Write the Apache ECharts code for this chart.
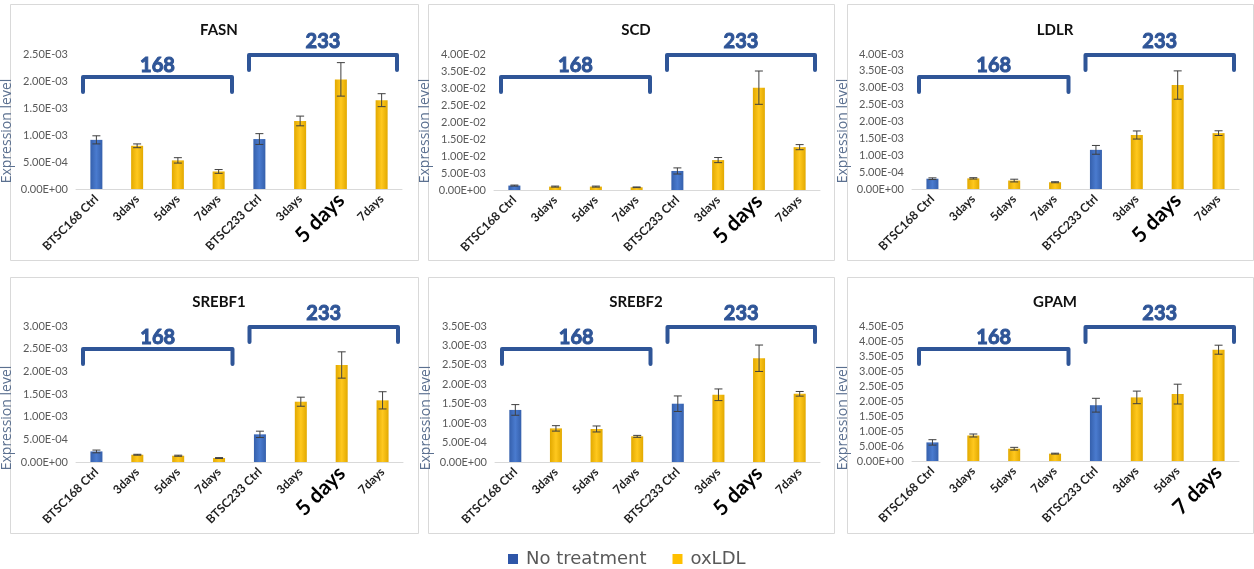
<!DOCTYPE html>
<html>
<head>
<meta charset="utf-8">
<title>Lipid gene expression</title>
<script src="https://cdn.jsdelivr.net/npm/echarts@6/dist/echarts.min.js"></script>
<style>
  html, body { margin: 0; padding: 0; background: #fff; }
  #chart { width: 1254px; height: 569px; }
</style>
</head>
<body>
<div id="chart"></div>
<script>
// ---- data ----
const panelTitles = ['FASN', 'SCD', 'LDLR', 'SREBF1', 'SREBF2', 'GPAM'];
const categories = ['BTSC168 Ctrl', '3days', '5days', '7days', 'BTSC233 Ctrl', '3days', '5 days', '7days'];
const categoriesGpam = ['BTSC168 Ctrl', '3days', '5days', '7days', 'BTSC233 Ctrl', '3days', '5days', '7 days'];
const highlightIndex = [6, 6, 6, 6, 6, 7];
const isControl = [true, false, false, false, true, false, false, false];
const groupLabels = ['168', '233'];
const seriesNames = ['No treatment', 'oxLDL'];

const fasnMean = [0.91e-3, 0.80e-3, 0.53e-3, 0.325e-3, 0.925e-3, 1.26e-3, 2.03e-3, 1.645e-3];
const fasnErr = [0.075e-3, 0.035e-3, 0.05e-3, 0.035e-3, 0.1e-3, 0.09e-3, 0.31e-3, 0.12e-3];

const scdMean = [1.3e-3, 1.0e-3, 1.0e-3, 0.8e-3, 5.6e-3, 8.8e-3, 30.1e-3, 12.6e-3];
const scdErr = [0.15e-3, 0.15e-3, 0.15e-3, 0.1e-3, 0.9e-3, 0.75e-3, 4.9e-3, 0.75e-3];

const ldlrMean = [0.305e-3, 0.315e-3, 0.25e-3, 0.2e-3, 1.16e-3, 1.6e-3, 3.08e-3, 1.655e-3];
const ldlrErr = [0.025e-3, 0.02e-3, 0.04e-3, 0.015e-3, 0.13e-3, 0.12e-3, 0.42e-3, 0.07e-3];

const srebf1Mean = [0.233e-3, 0.16e-3, 0.138e-3, 0.087e-3, 0.61e-3, 1.33e-3, 2.14e-3, 1.36e-3];
const srebf1Err = [0.03e-3, 0.01e-3, 0.012e-3, 0.01e-3, 0.07e-3, 0.1e-3, 0.29e-3, 0.19e-3];

const srebf2Mean = [1.34e-3, 0.865e-3, 0.85e-3, 0.66e-3, 1.5e-3, 1.73e-3, 2.67e-3, 1.755e-3];
const srebf2Err = [0.137e-3, 0.07e-3, 0.077e-3, 0.025e-3, 0.2e-3, 0.15e-3, 0.34e-3, 0.06e-3];

const gpamMean = [6.2e-6, 8.5e-6, 4.1e-6, 2.45e-6, 18.6e-6, 21.2e-6, 22.3e-6, 37.1e-6];
const gpamErr = [0.9e-6, 0.5e-6, 0.45e-6, 0.15e-6, 2.3e-6, 2.1e-6, 3.3e-6, 1.5e-6];

const yMax = [2.5e-3, 4e-2, 4e-3, 3e-3, 3.5e-3, 4.5e-5];
const yStep = [5e-4, 5e-3, 5e-4, 5e-4, 5e-4, 5e-6];

const means = [fasnMean, scdMean, ldlrMean, srebf1Mean, srebf2Mean, gpamMean];
const errs = [fasnErr, scdErr, ldlrErr, srebf1Err, srebf2Err, gpamErr];
const panelCategories = [categories, categories, categories, categories, categories, categoriesGpam];

// ---- layout ----
const panelBoxes = [
  { x: 10, y: 4, w: 408, h: 256 }, { x: 428, y: 4, w: 406, h: 256 }, { x: 847, y: 4, w: 406, h: 256 },
  { x: 10, y: 277, w: 408, h: 256 }, { x: 428, y: 277, w: 406, h: 256 }, { x: 847, y: 277, w: 406, h: 256 }
];
const plotRects = [
  { left: 76, top: 54, width: 326, height: 135 }, { left: 494, top: 54, width: 326, height: 136 },
  { left: 912, top: 54, width: 327, height: 135 }, { left: 76, top: 326, width: 327, height: 136 },
  { left: 495, top: 326, width: 325, height: 136 }, { left: 912, top: 326, width: 327, height: 135 }
];
const titleCenterY = [27, 299];
const yNameCenterY = [131, 418];

const FONT = 'Lato, "Open Sans", sans-serif';
const BRACKET = '#2F5597';

// 2.50E-03 style tick labels
function sci(v) {
  if (v === 0) return '0.00E+00';
  let e = Math.floor(Math.log10(Math.abs(v)));
  let m = v / Math.pow(10, e);
  if (Math.round(m * 100) / 100 >= 10) { m /= 10; e += 1; }
  return m.toFixed(2) + 'E' + (e < 0 ? '-' : '+') + String(Math.abs(e)).padStart(2, '0');
}

function barFill(edge, mid) {
  return {
    type: 'linear', x: 0, y: 0, x2: 1, y2: 0,
    colorStops: [{ offset: 0, color: edge }, { offset: 0.5, color: mid }, { offset: 1, color: edge }]
  };
}
const blueFill = barFill('#3560AC', '#4A7BCF');
const goldFill = barFill('#E2A900', '#FFC81E');

function renderErrorBar(params, api) {
  const idx = api.value(0);
  const top = api.coord([idx, api.value(2)]);
  const bot = api.coord([idx, api.value(1)]);
  const hw = 4;
  const style = { stroke: '#3F3F3F', lineWidth: 1 };
  return {
    type: 'group',
    children: [
      { type: 'line', shape: { x1: top[0], y1: top[1], x2: bot[0], y2: bot[1] }, style },
      { type: 'line', shape: { x1: top[0] - hw, y1: top[1], x2: top[0] + hw, y2: top[1] }, style },
      { type: 'line', shape: { x1: bot[0] - hw, y1: bot[1], x2: bot[0] + hw, y2: bot[1] }, style }
    ]
  };
}

const titles = [], grids = [], xAxes = [], yAxes = [], series = [], graphics = [];

panelTitles.forEach((name, i) => {
  const box = panelBoxes[i];
  const r = plotRects[i];
  const row = i < 3 ? 0 : 1;

  graphics.push({
    type: 'rect', z: -10, silent: true,
    shape: { x: box.x + 0.5, y: box.y + 0.5, width: box.w, height: box.h },
    style: { fill: '#fff', stroke: '#D9D9D9', lineWidth: 1 }
  });

  titles.push({
    text: name, left: box.x + box.w / 2, top: titleCenterY[row] - 9, textAlign: 'center',
    textStyle: { fontFamily: FONT, fontSize: 15, fontWeight: 'bold', color: '#111' }
  });

  grids.push({ left: r.left, top: r.top, width: r.width, height: r.height });

  const hi = highlightIndex[i];
  xAxes.push({
    type: 'category', gridIndex: i, data: panelCategories[i],
    axisLine: { lineStyle: { color: '#D9D9D9', width: 1 } },
    axisTick: { show: false },
    axisLabel: {
      interval: 0, rotate: 45, margin: 8,
      fontFamily: FONT, fontSize: 12, fontWeight: 'bold', color: '#1F1F1F',
      formatter: (v, idx) => idx === hi ? '{big|' + v + '}' : v,
      rich: { big: { fontFamily: FONT, fontSize: 21, fontWeight: 'bold', color: '#000' } }
    }
  });

  yAxes.push({
    type: 'value', gridIndex: i, min: 0, max: yMax[i], interval: yStep[i],
    axisLine: { show: false }, axisTick: { show: false }, splitLine: { show: false },
    axisLabel: { fontFamily: FONT, fontSize: 11, color: '#595959', margin: 8, formatter: sci }
  });

  const m = means[i], e = errs[i];
  series.push({
    name: seriesNames[0], type: 'bar', xAxisIndex: i, yAxisIndex: i,
    barWidth: 12, barGap: '-100%',
    itemStyle: { color: blueFill },
    data: m.map((v, k) => isControl[k] ? v : '-')
  });
  series.push({
    name: seriesNames[1], type: 'bar', xAxisIndex: i, yAxisIndex: i,
    barWidth: 12, barGap: '-100%',
    itemStyle: { color: goldFill },
    data: m.map((v, k) => isControl[k] ? '-' : v)
  });
  series.push({
    type: 'custom', xAxisIndex: i, yAxisIndex: i, z: 5, silent: true,
    renderItem: renderErrorBar,
    encode: { x: 0, y: [1, 2] },
    data: m.map((v, k) => [k, v - e[k], v + e[k]])
  });

  // axis title
  graphics.push({
    type: 'text', silent: true,
    x: r.left - 69, y: yNameCenterY[row], rotation: Math.PI / 2,
    style: {
      text: 'Expression level', fill: '#5B7090',
      fontFamily: '"Open Sans", sans-serif', fontSize: 14,
      align: 'center', verticalAlign: 'middle'
    }
  });

  // group brackets over the two cell lines
  const band = r.width / categories.length;
  const spans = [
    { x1: r.left + 7, x2: r.left + 4 * band - 7, y: r.top + 23, labelY: r.top + 12 },
    { x1: r.left + 4 * band + 10, x2: r.left + r.width - 5, y: r.top + 1, labelY: r.top - 12 }
  ];
  spans.forEach((s, g) => {
    graphics.push({
      type: 'polyline', silent: true, z: 10,
      shape: { points: [[s.x1, s.y + 15], [s.x1, s.y], [s.x2, s.y], [s.x2, s.y + 15]] },
      style: { stroke: BRACKET, lineWidth: 4, fill: null, lineJoin: 'round', lineCap: 'round' }
    });
    graphics.push({
      type: 'text', silent: true, z: 10,
      x: (s.x1 + s.x2) / 2, y: s.labelY,
      style: {
        text: groupLabels[g], fill: BRACKET,
        fontFamily: FONT, fontSize: 20, fontWeight: 'bold',
        stroke: BRACKET, lineWidth: 1,
        align: 'center', verticalAlign: 'middle',
        shadowColor: 'rgba(0,0,0,0.35)', shadowBlur: 2, shadowOffsetX: 1, shadowOffsetY: 1
      }
    });
  });
});

const chart = echarts.init(document.getElementById('chart'), null, { renderer: 'canvas' });
chart.setOption({
  backgroundColor: '#fff',
  animation: false,
  title: titles,
  grid: grids,
  xAxis: xAxes,
  yAxis: yAxes,
  series: series,
  legend: {
    left: 503, top: 545,
    icon: 'rect', itemWidth: 10, itemHeight: 10, itemGap: 26,
    textStyle: { fontFamily: '"DejaVu Sans", sans-serif', fontSize: 18, color: '#595959', padding: [0, 0, 0, 3] },
    data: [
      { name: seriesNames[0], itemStyle: { color: '#2E56A8' } },
      { name: seriesNames[1], itemStyle: { color: '#FFC000' } }
    ]
  },
  graphic: graphics
});
</script>
</body>
</html>
